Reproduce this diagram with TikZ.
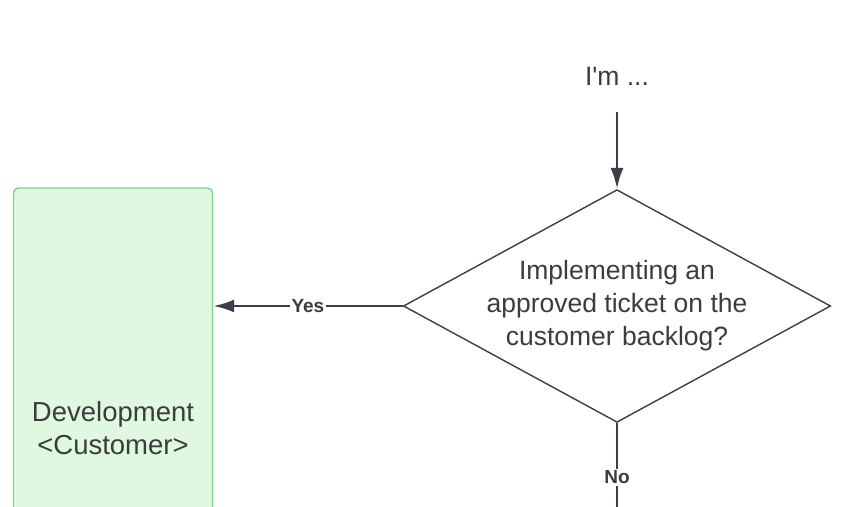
\documentclass[tikz,border=0pt]{standalone}
\usepackage{fontspec}
\setmainfont{Liberation Sans}
\usetikzlibrary{shapes.geometric,arrows.meta}

\definecolor{inkgray}{HTML}{3A3F47}
\definecolor{txtgray}{HTML}{3C3C3C}
\definecolor{devfill}{HTML}{E0F8E0}
\definecolor{devline}{HTML}{7ED38A}

\tikzset{
  flowarrow/.style={line width=2.8pt, draw=inkgray,
    -{Latex[length=21pt,width=13pt]}},
  flowline/.style={line width=2.8pt, draw=inkgray},
  edgelabel/.style={fill=white, inner sep=1.5pt, text=txtgray,
    font=\fontsize{19}{21}\selectfont\bfseries},
  decision/.style={diamond, shape aspect=1.836, draw=inkgray, line width=1.4pt,
    inner sep=0pt, minimum width=426pt, minimum height=232pt, align=center,
    text=txtgray, font=\fontsize{26.5}{33}\selectfont},
  lane/.style={rectangle, rounded corners=5pt, draw=devline, fill=devfill,
    line width=1.4pt, minimum width=199pt, minimum height=480pt,
    align=center, text=txtgray, font=\fontsize{27.5}{33}\selectfont}
}

\begin{document}
\begin{tikzpicture}[x=1pt, y=-1pt]

    % --- Page frame ---
    \useasboundingbox (0,0) rectangle (864,506);
    \clip (0,0) rectangle (864,506);

    % --- Nodes ---
    \node[inner sep=0pt, text=txtgray, font=\fontsize{26.5}{30}\selectfont]
        (im) at (617,76) {I\textquotesingle m ...};
    \node[decision] (q) at (617,306)
        {Implementing an\\approved ticket on the\\customer backlog?};
    \node[lane] (dev) at (113,428) {Development\\<Customer>};

    % loose end of the No branch, below the page edge
    \coordinate (noend) at (617,532);

    % --- Connectors ---
    \draw[flowarrow, shorten <=27pt] (im.south) -- (q.north);
    \draw[flowarrow] (q.west) -- node[edgelabel] {Yes} (dev.east |- q.west);
    \draw[flowline] (q.south) -- node[edgelabel] {No} (noend);

\end{tikzpicture}
\end{document}
